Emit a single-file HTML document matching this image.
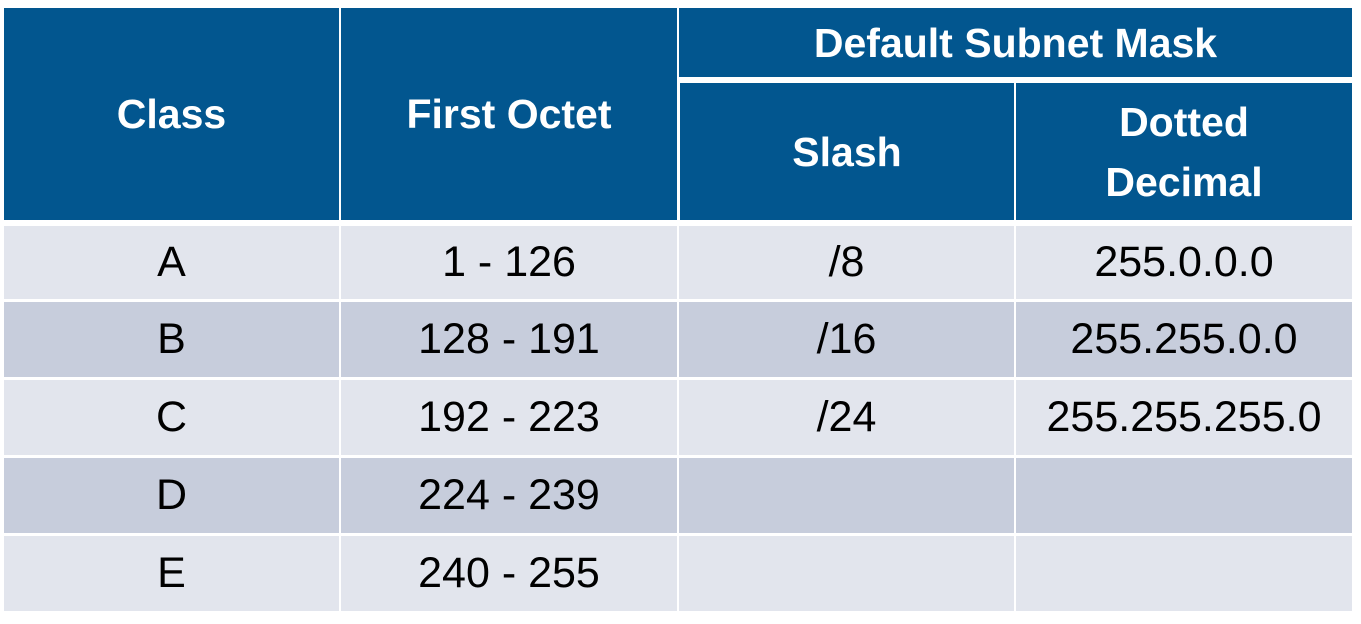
<!DOCTYPE html>
<html><head><style>
body{margin:0;width:1361px;height:624px;background:#fff;position:relative;overflow:hidden;font-family:"Liberation Sans",sans-serif}
.c{position:absolute;display:flex;align-items:center;justify-content:center;text-align:center}
.h{background:#02568f;color:#fff;font-weight:bold;font-size:41px;line-height:60px}
.l{background:#e2e5ed;color:#000;font-size:43px}
.d{background:#c7cddc;color:#000;font-size:43px}
</style></head><body>
<div class="c h" style="left:4px;top:8px;width:335px;height:212px">Class</div>
<div class="c h" style="left:341px;top:8px;width:336px;height:212px">First Octet</div>
<div class="c h" style="left:679px;top:8px;width:673px;height:69px">Default Subnet Mask</div>
<div class="c h" style="left:680px;top:83px;width:334px;height:137px">Slash</div>
<div class="c h" style="left:1016px;top:83px;width:336px;height:137px">Dotted<br>Decimal</div>

<div class="c l" style="left:4px;top:226px;width:335px;height:73px">A</div>
<div class="c l" style="left:341px;top:226px;width:336px;height:73px">1 - 126</div>
<div class="c l" style="left:679px;top:226px;width:335px;height:73px">/8</div>
<div class="c l" style="left:1016px;top:226px;width:336px;height:73px">255.0.0.0</div>

<div class="c d" style="left:4px;top:302px;width:335px;height:75px">B</div>
<div class="c d" style="left:341px;top:302px;width:336px;height:75px">128 - 191</div>
<div class="c d" style="left:679px;top:302px;width:335px;height:75px">/16</div>
<div class="c d" style="left:1016px;top:302px;width:336px;height:75px">255.255.0.0</div>

<div class="c l" style="left:4px;top:380px;width:335px;height:75px">C</div>
<div class="c l" style="left:341px;top:380px;width:336px;height:75px">192 - 223</div>
<div class="c l" style="left:679px;top:380px;width:335px;height:75px">/24</div>
<div class="c l" style="left:1016px;top:380px;width:336px;height:75px">255.255.255.0</div>

<div class="c d" style="left:4px;top:458px;width:335px;height:75px">D</div>
<div class="c d" style="left:341px;top:458px;width:336px;height:75px">224 - 239</div>
<div class="c d" style="left:679px;top:458px;width:335px;height:75px"></div>
<div class="c d" style="left:1016px;top:458px;width:336px;height:75px"></div>

<div class="c l" style="left:4px;top:536px;width:335px;height:75px">E</div>
<div class="c l" style="left:341px;top:536px;width:336px;height:75px">240 - 255</div>
<div class="c l" style="left:679px;top:536px;width:335px;height:75px"></div>
<div class="c l" style="left:1016px;top:536px;width:336px;height:75px"></div>
</body></html>
